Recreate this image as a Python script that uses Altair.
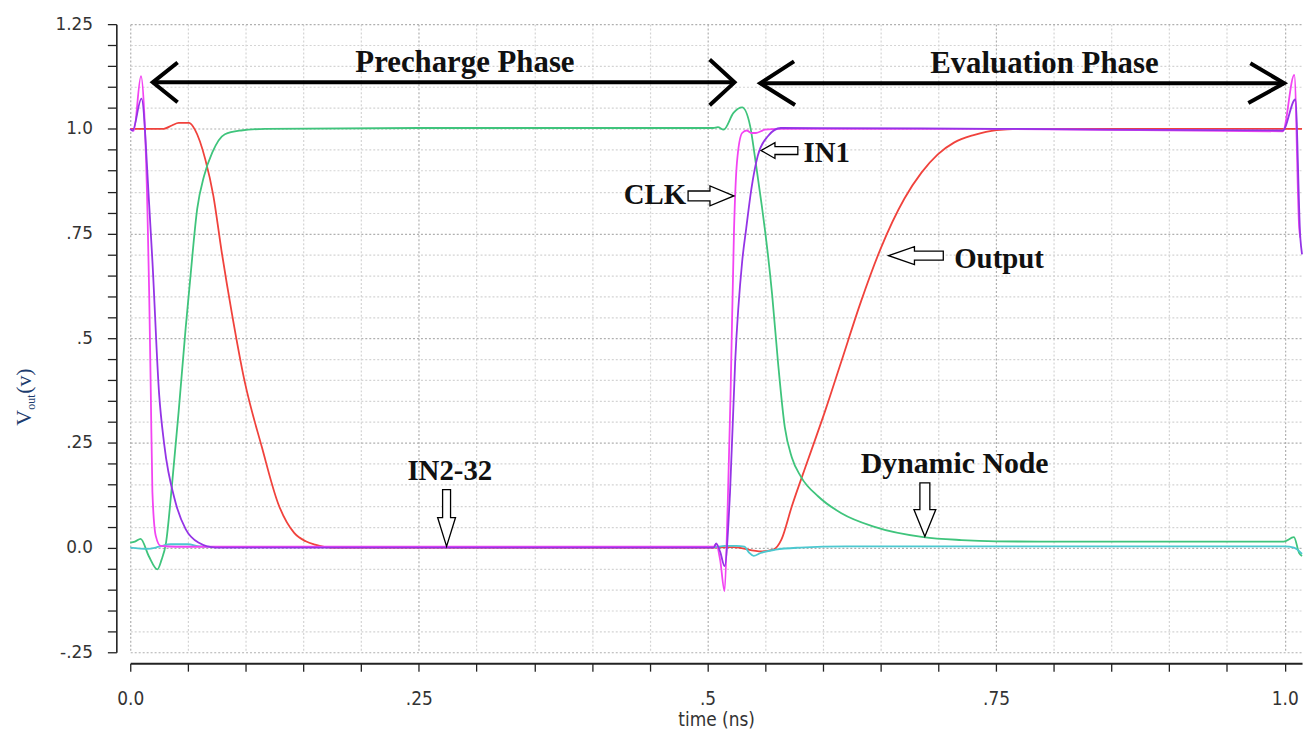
import altair as alt
import pandas as pd

# ---------------- data (time in ns, voltage in V) ----------------
clk_t = [0, 0.003, 0.0093, 0.0121, 0.0149, 0.0164, 0.0178, 0.0192, 0.0221, 0.0264, 0.04, 0.25,
         0.5055, 0.5075, 0.511, 0.5148, 0.5175, 0.520, 0.523, 0.5255, 0.530, 0.534, 0.538, 0.542,
         0.550, 0.562, 0.75, 0.9983, 1.0083, 1.0126, 1.0135]
clk_v = [1.0, 0.995, 1.126, 1.04, 0.804, 0.607, 0.37, 0.132, 0.028, 0.004, 0.002, 0.002,
         0.002, 0.009, -0.03, -0.104, 0.10, 0.367, 0.761, 0.919, 0.99, 0.996, 0.99, 0.99,
         0.998, 1.0, 1.0, 0.994, 1.129, 0.761, 0.74]

in1_t = [0, 0.002, 0.0097, 0.0164, 0.0192, 0.025, 0.0293, 0.0393, 0.048, 0.059, 0.074, 0.25,
         0.5055, 0.5075, 0.511, 0.5148, 0.5195, 0.524, 0.530, 0.5335, 0.538, 0.5435, 0.5525,
         0.5635, 0.75, 0.9983, 1.0092, 1.0135, 1.015]
in1_v = [1.0, 0.996, 1.072, 0.819, 0.684, 0.367, 0.249, 0.107, 0.044, 0.012, 0.0, 0.0,
         0.0, 0.01, -0.01, -0.044, 0.13, 0.445, 0.682, 0.761, 0.856, 0.935, 0.983,
         1.002, 1.0, 0.996, 1.07, 0.74, 0.70]

out_t = [0, 0.029, 0.036, 0.042, 0.051, 0.056, 0.065, 0.072, 0.079, 0.088, 0.099, 0.114, 0.128,
         0.142, 0.152, 0.16, 0.175, 0.5, 0.522, 0.547, 0.557, 0.564, 0.573, 0.587, 0.602, 0.616,
         0.633, 0.650, 0.6705, 0.6855, 0.6995, 0.7135, 0.7305, 0.7505, 0.7735, 0.85, 1.015]
out_v = [1.0, 1.0, 1.008, 1.014, 1.014, 0.998, 0.927, 0.84, 0.71, 0.56, 0.398, 0.24, 0.106,
         0.035, 0.015, 0.007, 0.0, 0.0, 0.001, -0.009, -0.005, 0.019, 0.098, 0.209, 0.327, 0.445,
         0.588, 0.714, 0.833, 0.896, 0.939, 0.967, 0.985, 0.997, 1.0, 1.0, 1.0]

dyn_t = [0, 0.004, 0.009, 0.016, 0.0235, 0.027, 0.031, 0.036, 0.042, 0.048, 0.052, 0.058, 0.064,
         0.071, 0.082, 0.096, 0.117, 0.25, 0.505, 0.509, 0.514, 0.5225, 0.530, 0.537, 0.541,
         0.547, 0.55, 0.556, 0.561, 0.567, 0.573, 0.581, 0.596, 0.616, 0.644, 0.687, 0.72, 0.75,
         0.8, 0.999, 1.008, 1.0125, 1.015]
dyn_v = [0.012, 0.014, 0.021, -0.02, -0.052, -0.03, 0.012, 0.145, 0.327, 0.524, 0.643, 0.809,
         0.888, 0.943, 0.987, 0.996, 1.0, 1.002, 1.002, 1.004, 0.998, 1.038, 1.051, 1.006, 0.935,
         0.817, 0.754, 0.604, 0.445, 0.287, 0.216, 0.169, 0.122, 0.082, 0.05, 0.025, 0.018,
         0.015, 0.014, 0.014, 0.025, -0.013, -0.02]

in2_t = [0, 0.015, 0.025, 0.035, 0.05, 0.06, 0.08, 0.505, 0.515, 0.525, 0.532, 0.536, 0.540,
         0.546, 0.559, 0.58, 0.62, 1.0, 1.008, 1.015]
in2_v = [0.0, -0.003, 0.002, 0.008, 0.008, 0.003, 0.001, 0.001, 0.004, 0.004, 0.002, -0.012,
         -0.02, -0.013, -0.005, 0.0, 0.003, 0.003, 0.0, -0.015]

series_names = ["Output", "Dynamic Node", "IN2-32", "CLK", "IN1"]
series_colors = ["#f0423c", "#3fc47c", "#4cc8d0", "#f244f2", "#9434e6"]
series_t = [out_t, dyn_t, in2_t, clk_t, in1_t]
series_v = [out_v, dyn_v, in2_v, clk_v, in1_v]

# axis ticks / labels
x_ticks = [round(0.05 * i, 2) for i in range(21)]
x_label_vals = [0.0, 0.25, 0.5, 0.75, 1.0]
x_label_text = ["0.0", ".25", ".5", ".75", "1.0"]
y_ticks = [round(-0.25 + 0.05 * i, 2) for i in range(31)]
y_label_vals = [1.25, 1.0, 0.75, 0.5, 0.25, 0.0, -0.25]
y_label_text = ["1.25", "1.0", ".75", ".5", ".25", "0.0", "-.25"]

# phase arrows (shaft start, end, level) and labels
phase_names = ["Precharge Phase", "Evaluation Phase"]
phase_t1 = [0.0195, 0.5457]
phase_t2 = [0.5234, 0.9995]
phase_v = [1.111, 1.109]
phase_label_t = [0.2899, 0.7918]
phase_label_v = [1.1366, 1.1325]

# chevron heads: tip positions + shape
chev_t = [0.0195, 0.5234, 0.5457, 0.9995]
chev_v = [1.111, 1.111, 1.109, 1.109]
chev_shape = ["M 25 -20 L 0 0 L 25 20", "M -25 -23 L 0 0 L -25 23",
              "M 34 -22 L 0 0 L 35 22", "M -34 -20 L 0 0 L -36 20"]

# signal labels
lab_text = ["IN1", "CLK", "Output", "IN2-32", "Dynamic Node"]
lab_t = [0.5831, 0.4815, 0.7137, 0.2768, 0.7141]
lab_v = [0.9425, 0.842, 0.690, 0.1824, 0.1983]
lab_align = ["left", "right", "left", "center", "center"]
lab_size = [29, 29, 29, 29, 30]

# hollow block arrows (tip positions + shape)
arr_t = [0.5464, 0.5228, 0.6569, 0.274, 0.6883]
arr_v = [0.9482, 0.8397, 0.6971, 0.0029, 0.0266]
arr_shape = [
    "M 0 0 L 14 -8 L 14 -4 L 37 -4 L 37 4 L 14 4 L 14 8 Z",
    "M 0 0 L -24 -10 L -24 -5 L -46 -5 L -46 5 L -24 5 L -24 10 Z",
    "M 0 0 L 26 -9 L 26 -4.5 L 55 -4.5 L 55 4.5 L 26 4.5 L 26 9 Z",
    "M 0 0 L -9 -29 L -4 -29 L -4 -57 L 4 -57 L 4 -29 L 9 -29 Z",
    "M 0 0 L -11 -27 L -5 -27 L -5 -54 L 5 -54 L 5 -27 L 11 -27 Z",
]

# ---------------- scales / axes ----------------
def lbl_expr(vals, texts):
    e = "''"
    for v, t in reversed(list(zip(vals, texts))):
        e = f"abs(datum.value - ({v})) < 0.001 ? '{t}' : " + e
    return e

major_test = "abs(datum.value*4 - round(datum.value*4)) < 0.001"
grid_color = {"condition": {"test": major_test, "value": "#b0b0b0"}, "value": "#d4d4d4"}
narrow = "DejaVu Sans Condensed, Liberation Sans Narrow, sans-serif"

xs = alt.Scale(domain=[0, 1.015], nice=False, zero=False)
ys = alt.Scale(domain=[-0.25, 1.25], nice=False, zero=False)

x_axis = alt.Axis(values=x_ticks, labelExpr=lbl_expr(x_label_vals, x_label_text),
                  title="time (ns)", offset=11, tickSize=8, tickColor="#222", tickWidth=1.3,
                  domainColor="#222", domainWidth=2, labelFont=narrow,
                  labelFontSize=19, labelColor="#333", labelPadding=19, labelFlush=False,
                  labelOverlap=False, titleFont=narrow,
                  titleFontSize=19, titleFontWeight="normal", titleColor="#333", titlePadding=2,
                  grid=True, gridDash=[2, 2], gridColor=grid_color, gridWidth=1.2)
y_axis = alt.Axis(values=y_ticks, labelExpr=lbl_expr(y_label_vals, y_label_text),
                  title=None, offset=14, tickSize=9, tickColor="#222", tickWidth=1.3,
                  domainColor="#222", domainWidth=1.6, labelFont="DejaVu Sans",
                  labelFontSize=17, labelColor="#333", labelPadding=15, labelFlush=False,
                  labelOverlap=False, grid=True, gridDash=[2, 2], gridColor=grid_color,
                  gridWidth=1.2)

def X(field="t"):
    return alt.X(f"{field}:Q", scale=xs, axis=x_axis)

def Y(field="v"):
    return alt.Y(f"{field}:Q", scale=ys, axis=y_axis)

layers = []

# signal lines
for name, col, tt, vv in zip(series_names, series_colors, series_t, series_v):
    df = pd.DataFrame({"t": tt, "v": vv, "series": name})
    layers.append(alt.Chart(df).mark_line(color=col, strokeWidth=1.8, interpolate="monotone")
                  .encode(x=X(), y=Y(), order="t:Q"))

# phase arrow shafts
ph = pd.DataFrame({"t": phase_t1, "t2": phase_t2, "v": phase_v})
layers.append(alt.Chart(ph).mark_rule(color="black", strokeWidth=4)
              .encode(x=X(), x2="t2:Q", y=Y()))

# chevrons
for tt, vv, shp in zip(chev_t, chev_v, chev_shape):
    d = pd.DataFrame({"t": [tt], "v": [vv]})
    layers.append(alt.Chart(d).mark_point(shape=shp, size=4, filled=False, stroke="black",
                                          strokeWidth=4, opacity=1, strokeJoin="miter")
                  .encode(x=X(), y=Y()))

# phase labels
pl = pd.DataFrame({"t": phase_label_t, "v": phase_label_v, "txt": phase_names})
layers.append(alt.Chart(pl).mark_text(font="Liberation Serif", fontWeight="bold", fontSize=31,
                                      color="#111", baseline="alphabetic", align="center")
              .encode(x=X(), y=Y(), text="txt:N"))

# hollow block arrows
for tt, vv, shp in zip(arr_t, arr_v, arr_shape):
    d = pd.DataFrame({"t": [tt], "v": [vv]})
    layers.append(alt.Chart(d).mark_point(shape=shp, size=4, filled=True, fill="white",
                                          stroke="black", strokeWidth=1.3, opacity=1,
                                          fillOpacity=1, strokeOpacity=1)
                  .encode(x=X(), y=Y()))

# signal labels
for txt, tt, vv, al, fs in zip(lab_text, lab_t, lab_v, lab_align, lab_size):
    d = pd.DataFrame({"t": [tt], "v": [vv], "txt": [txt]})
    layers.append(alt.Chart(d).mark_text(font="Liberation Serif", fontWeight="bold", fontSize=fs,
                                         color="#111", baseline="middle", align=al)
                  .encode(x=X(), y=Y(), text="txt:N"))

# y-axis title  V_out(v)
ytitle_color = "#1d3c6e"
layers.append(alt.Chart(pd.DataFrame({"a": [0]})).mark_text(
    text="V", font="Liberation Serif", fontSize=22, color=ytitle_color, angle=270,
    align="left", baseline="alphabetic").encode(x=alt.value(-100), y=alt.value(404)))
layers.append(alt.Chart(pd.DataFrame({"a": [0]})).mark_text(
    text="out", font="Liberation Serif", fontSize=12, color=ytitle_color, angle=270,
    align="left", baseline="alphabetic").encode(x=alt.value(-96), y=alt.value(388)))
layers.append(alt.Chart(pd.DataFrame({"a": [0]})).mark_text(
    text="(v)", font="Liberation Serif", fontSize=22, color=ytitle_color, angle=270,
    align="left", baseline="alphabetic").encode(x=alt.value(-100), y=alt.value(372)))

chart = alt.layer(*layers).properties(
    width=1179, height=632,
    padding={"left": 123, "top": 14, "right": 6, "bottom": 81},
    autosize=alt.AutoSizeParams(type="none"),
    background="white",
).configure_view(strokeWidth=0)

chart.save("out.html", embed_options={"renderer": "svg", "actions": False})
